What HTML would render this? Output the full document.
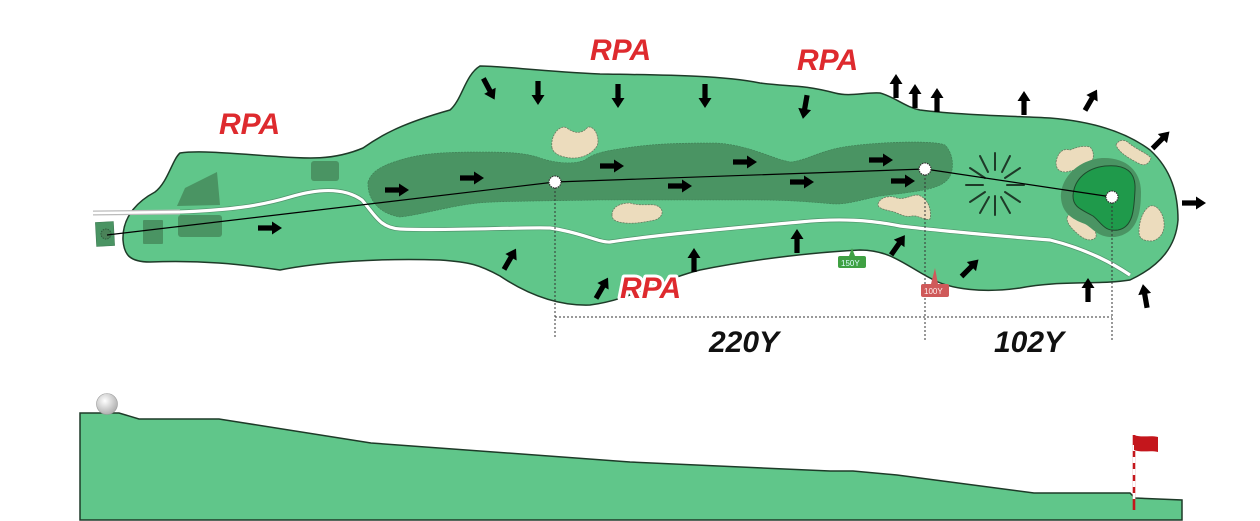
<!DOCTYPE html>
<html><head><meta charset="utf-8"><style>
html,body{margin:0;padding:0;background:#fff;}
svg{display:block;}
.rpa{font-family:"Liberation Sans",sans-serif;font-weight:bold;font-style:italic;font-size:30px;fill:#de2a2e;}
.yd{font-family:"Liberation Sans",sans-serif;font-weight:bold;font-style:italic;font-size:30px;fill:#111;}
.bk{fill:#ecdcbd;stroke:#6a7a60;stroke-width:0.8;stroke-dasharray:2 1;}
</style></head><body>
<svg width="1260" height="521" viewBox="0 0 1260 521" xmlns="http://www.w3.org/2000/svg">
<defs>
<g id="ar"><path d="M-12,-2.6 L2,-2.6 L2,-6.5 L12,0 L2,6.5 L2,2.6 L-12,2.6 Z" fill="#000"/></g>
</defs>
<path d="M123,240 C122,215 140,200 155,192 C168,182 172,160 180,153 C200,150 240,154 270,156 C300,158 330,162 363,148 C380,136 400,124 450,110 C462,100 465,75 480,66 C500,66 540,71 600,74 C660,75 720,75 760,83 C790,87 800,84 835,93 C850,97 865,92 880,93 C895,97 905,107 920,110 C960,115 1010,116 1050,118 C1100,122 1130,135 1150,150 C1172,170 1178,195 1178,220 C1176,245 1162,265 1130,280 C1100,285 1060,280 1020,288 C985,293 950,290 930,278 C905,265 890,250 860,250 C820,252 760,258 700,270 C660,280 630,300 590,305 C560,306 530,296 500,276 C480,265 470,262 440,260 C380,258 320,262 280,270 C240,264 200,260 150,262 C130,262 124,255 123,240 Z" fill="#60c68a" stroke="#1e3a28" stroke-width="1.5"/>
<path d="M368,182 C372,170 384,165 400,160 C420,154 439,152 480,152 C510,152 526,153 540,158 C555,163 573,165 585,160 C595,152 610,150 640,146 C660,144 672,143 716,143 C750,145 775,160 791,162 C808,160 820,150 850,146 C880,142 933,140 945,145 C955,155 955,175 945,182 C935,190 913,192 880,196 C860,200 850,204 834,204 C810,202 790,200 755,200 C700,200 650,200 597,200 C550,201 500,201 478,203 C450,206 420,215 400,217 C380,214 367,200 368,182 Z" fill="#4a9463" stroke="#3e7d54" stroke-width="0.6" stroke-dasharray="2 1"/>
<rect x="96" y="222" width="18" height="24" fill="#4a9463" stroke="#3e7d54" stroke-width="0.6" transform="rotate(-3 105 234)"/>
<circle cx="106" cy="234" r="5" fill="#4a8258" stroke="#2e5a3c" stroke-width="1" stroke-dasharray="1.5 1"/>
<rect x="143" y="220" width="20" height="24" fill="#4a9463" rx="1"/>
<rect x="178" y="215" width="44" height="22" fill="#4a9463" rx="3"/>
<path d="M177,206 L185,188 L217,172 L220,205 Z" fill="#4a9463"/>
<rect x="311" y="161" width="28" height="20" fill="#4a9463" rx="3"/>
<path d="M93,213 L180,212" stroke="#bbb" stroke-width="5" fill="none"/>
<path d="M93,213 L180,212" stroke="#fff" stroke-width="2.5" fill="none"/>
<path d="M180,212 C230,210 260,206 290,197 C320,188 345,188 362,200 C375,215 380,228 400,229 C450,231 520,227 550,228 C580,232 600,243 610,242 C650,236 700,231 800,222 C840,218 870,220 900,226 C950,232 1000,236 1050,240 C1090,250 1115,265 1130,275" stroke="#333" stroke-width="4.6" fill="none" stroke-opacity="0.35"/>
<path d="M180,212 C230,210 260,206 290,197 C320,188 345,188 362,200 C375,215 380,228 400,229 C450,231 520,227 550,228 C580,232 600,243 610,242 C650,236 700,231 800,222 C840,218 870,220 900,226 C950,232 1000,236 1050,240 C1090,250 1115,265 1130,275" stroke="#fff" stroke-width="3.2" fill="none"/>
<path d="M552,148 C550,135 560,124 567,128 C575,134 582,134 588,127 C596,126 600,140 597,146 C590,157 575,160 565,157 C558,156 553,152 552,148 Z" class="bk"/>
<path d="M612,215 C612,207 620,203 630,203 C640,206 648,204 655,205 C665,208 664,217 655,220 C645,222 635,224 625,223 C616,222 612,220 612,215 Z" class="bk"/>
<path d="M878,204 C880,197 890,195 897,198 C905,200 910,195 918,195 C928,198 932,210 930,219 C925,221 918,215 912,216 C903,218 898,212 890,211 C882,209 878,208 878,204 Z" class="bk"/>
<path d="M1056,162 C1058,152 1063,148 1070,150 C1075,148 1082,145 1090,147 C1095,152 1094,160 1090,164 C1085,168 1075,170 1066,172 C1058,172 1056,168 1056,162 Z" class="bk"/>
<path d="M1116,145 C1119,139 1125,139 1130,144 C1138,150 1148,154 1151,158 C1149,164 1145,166 1140,164 C1130,159 1119,153 1116,145 Z" class="bk"/>
<path d="M1067,218 C1069,211 1076,212 1083,217 C1090,222 1097,230 1096,237 C1092,242 1085,240 1079,235 C1072,229 1067,224 1067,218 Z" class="bk"/>
<path d="M1139,232 C1139,221 1143,210 1150,206 C1157,204 1163,213 1164,222 C1165,231 1161,239 1152,241 C1144,241 1139,239 1139,232 Z" class="bk"/>
<path d="M1061,198 C1060,178 1078,160 1102,158 C1125,157 1141,170 1141,192 C1141,216 1136,234 1115,237 C1098,238 1094,229 1085,224 C1071,219 1062,212 1061,198 Z" fill="#4a9463"/>
<path d="M1073,196 C1074,178 1088,168 1105,166 C1126,164 1136,172 1135,190 C1134,207 1134,227 1118,230 C1104,232 1101,222 1093,216 C1083,210 1073,208 1073,196 Z" fill="#1f9a4b" stroke="#1e4a2c" stroke-width="1"/>
<g stroke="#1e3a28" stroke-width="2" stroke-linecap="round">
<line x1="995" y1="170" x2="995" y2="153"/><line x1="995" y1="196" x2="995" y2="215"/>
<line x1="1002" y1="172" x2="1010" y2="156"/><line x1="988" y1="172" x2="980" y2="156"/>
<line x1="1005" y1="178" x2="1020" y2="168"/><line x1="985" y1="178" x2="970" y2="168"/>
<line x1="1007" y1="185" x2="1024" y2="185"/><line x1="983" y1="185" x2="966" y2="185"/>
<line x1="1005" y1="192" x2="1020" y2="202"/><line x1="985" y1="192" x2="970" y2="202"/>
<line x1="1001" y1="197" x2="1010" y2="213"/><line x1="989" y1="197" x2="980" y2="213"/>
</g>
<g stroke="#333" stroke-width="1" stroke-dasharray="2 2" fill="none">
<line x1="555" y1="183" x2="555" y2="338"/>
<line x1="925" y1="170" x2="925" y2="340"/>
<line x1="1112" y1="198" x2="1112" y2="342"/>
<line x1="555" y1="317" x2="1112" y2="317"/>
</g>
<polyline points="107,235 555,182 925,169 1112,197" fill="none" stroke="#000" stroke-width="1.2"/>
<g fill="#fff" stroke="#333" stroke-width="1.2" stroke-dasharray="1.5 1">
<circle cx="555" cy="182" r="6"/><circle cx="925" cy="169" r="6"/><circle cx="1112" cy="197" r="6"/>
</g>
<path d="M849,256 L852,248 L855,256 Z" fill="#3fa043"/>
<rect x="838" y="256" width="28" height="12" rx="2" fill="#3fa043"/>
<text x="841" y="266" font-family="Liberation Sans,sans-serif" font-size="8" fill="#dff">150Y</text>
<path d="M931,284 L935,268 L938,284 Z" fill="#cf5a5a"/>
<rect x="921" y="284" width="28" height="13" rx="2" fill="#cf5a5a"/>
<text x="924" y="294" font-family="Liberation Sans,sans-serif" font-size="8" fill="#fee">100Y</text>
<use href="#ar" transform="translate(270,228)"/>
<use href="#ar" transform="translate(397,190)"/>
<use href="#ar" transform="translate(472,178)"/>
<use href="#ar" transform="translate(612,166)"/>
<use href="#ar" transform="translate(680,186)"/>
<use href="#ar" transform="translate(745,162)"/>
<use href="#ar" transform="translate(802,182)"/>
<use href="#ar" transform="translate(881,160)"/>
<use href="#ar" transform="translate(903,181)"/>
<use href="#ar" transform="translate(489,89) rotate(62)"/>
<use href="#ar" transform="translate(538,93) rotate(90)"/>
<use href="#ar" transform="translate(618,96) rotate(90)"/>
<use href="#ar" transform="translate(705,96) rotate(90)"/>
<use href="#ar" transform="translate(805,107) rotate(100)"/>
<use href="#ar" transform="translate(896,86) rotate(-90)"/>
<use href="#ar" transform="translate(915,96) rotate(-90)"/>
<use href="#ar" transform="translate(937,100) rotate(-90)"/>
<use href="#ar" transform="translate(1024,103) rotate(-90)"/>
<use href="#ar" transform="translate(1091,100) rotate(-60)"/>
<use href="#ar" transform="translate(1161,140) rotate(-45)"/>
<use href="#ar" transform="translate(1194,203)"/>
<use href="#ar" transform="translate(510,259) rotate(-60)"/>
<use href="#ar" transform="translate(602,288) rotate(-60)"/>
<use href="#ar" transform="translate(694,260) rotate(-90)"/>
<use href="#ar" transform="translate(797,241) rotate(-90)"/>
<use href="#ar" transform="translate(898,245) rotate(-55)"/>
<use href="#ar" transform="translate(970,268) rotate(-45)"/>
<use href="#ar" transform="translate(1088,290) rotate(-90)"/>
<use href="#ar" transform="translate(1145,296) rotate(-100)"/>
<text x="219" y="134" class="rpa">RPA</text>
<text x="590" y="60" class="rpa">RPA</text>
<text x="797" y="70" class="rpa">RPA</text>
<text x="620" y="298" class="rpa" stroke="#fff" stroke-width="6" stroke-linejoin="round">RPA</text>
<text x="620" y="298" class="rpa">RPA</text>
<text x="709" y="352" class="yd">220Y</text>
<text x="994" y="352" class="yd">102Y</text>
<path d="M80,520 L80,413 L119,413 L139,419 L219,419 L238,422 L371,443 L630,462 L830,471 L853,471 L897,475 L1034,493 L1130,493 L1135,498 L1182,500 L1182,520 Z" fill="#60c68a" stroke="#1e3a28" stroke-width="1.5"/>
<defs><radialGradient id="bg" cx="0.4" cy="0.35" r="0.7"><stop offset="0" stop-color="#fff"/><stop offset="1" stop-color="#aaa"/></radialGradient></defs>
<circle cx="107" cy="404" r="10.5" fill="url(#bg)" stroke="#999" stroke-width="0.6"/>
<line x1="1134" y1="435" x2="1134" y2="510" stroke="#c4161c" stroke-width="2.6"/>
<line x1="1134" y1="445" x2="1134" y2="505" stroke="#fff" stroke-width="2.6" stroke-dasharray="6 6"/>
<path d="M1134,435 C1142,438 1150,435 1158,437 L1158,452 C1150,450 1142,453 1134,450 Z" fill="#c4161c"/>
</svg>
</body></html>
